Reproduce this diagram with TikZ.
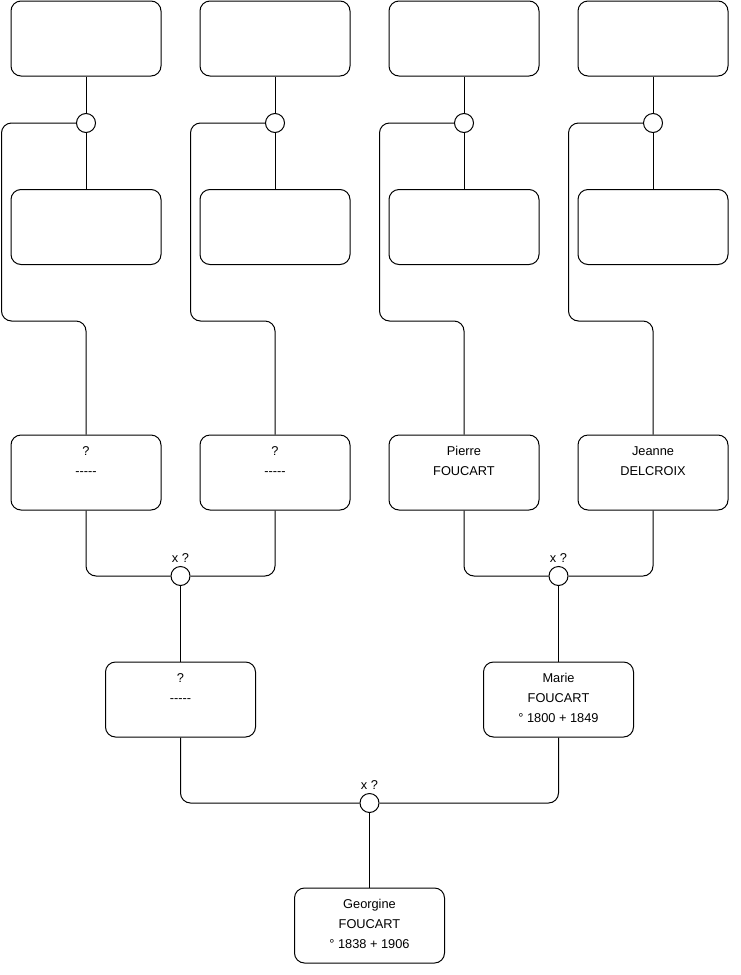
\documentclass[tikz,border=0pt]{standalone}
\usepackage{fontspec}
\setmainfont{Liberation Sans}
\usetikzlibrary{positioning, calc}

\newcommand{\card}[1]{\parbox[c][75pt][t]{150pt}{\centering\vspace*{6.5pt}\strut #1}}
\newcommand{\unknown}{-{}-{}-{}-{}-}

\begin{document}
\begin{tikzpicture}[
x=1pt, y=-1pt, line width=1pt,
    person/.style={rectangle, draw, line width=1pt, minimum width=150pt, minimum height=75pt, inner sep=0pt, rounded corners=10pt, font=\fontsize{12.8}{20}\selectfont},
    union/.style={circle, draw, fill=white, line width=1pt, minimum size=19pt, inner sep=0pt},
    every label/.style={font=\fontsize{12.8}{14}\selectfont, inner sep=3pt},
    link/.style={draw, line width=1pt, rounded corners=10pt}
]
    \useasboundingbox (0,0) rectangle (740,975);

    % Top generation
    \node[person] (a1) at (86,38.5) {\card{}};
    \node[person] (a2) at (275,38.5) {\card{}};
    \node[person] (a3) at (464,38.5) {\card{}};
    \node[person] (a4) at (653,38.5) {\card{}};

    \node[person] (b1) at (86,227) {\card{}};
    \node[person] (b2) at (275,227) {\card{}};
    \node[person] (b3) at (464,227) {\card{}};
    \node[person] (b4) at (653,227) {\card{}};

    % Grandparents
    \node[person] (pierre) at (464,472.5) {\card{Pierre\\FOUCART}};
    \node[person] (jeanne) at (653,472.5) {\card{Jeanne\\DELCROIX}};
    \node[person] (gpa) at (86,472.5) {\card{?\\\unknown}};
    \node[person] (gma) at (275,472.5) {\card{?\\\unknown}};

    % Parents
    \node[person] (father) at (180.5,699.5) {\card{?\\\unknown}};
    \node[person] (marie) at (558.5,699.5) {\card{Marie\\FOUCART\\° 1800 + 1849}};

    % Child
    \node[person] (georgine) at (369.5,925.5) {\card{Georgine\\FOUCART\\° 1838 + 1906}};

    % Unions
    \node[union] (u1) at (86,123) {};
    \node[union] (u2) at (275,123) {};
    \node[union] (u3) at (464,123) {};
    \node[union] (u4) at (653,123) {};
    \node[union, label={above:x ?}] (ugp) at (180.5,576) {};
    \node[union, label={above:x ?}] (upf) at (558.5,576) {};
    \node[union, label={above:x ?}] (uch) at (369.5,803) {};

    % Edges - top generation
    \draw[link] (a1) -- (u1) -- (b1);
    \draw[link] (a2) -- (u2) -- (b2);
    \draw[link] (a3) -- (u3) -- (b3);
    \draw[link] (a4) -- (u4) -- (b4);

    \draw[link] (u1.west) -| ++(-74.5,198) -| (gpa.north);
    \draw[link] (u2.west) -| ++(-74.5,198) -| (gma.north);
    \draw[link] (u3.west) -| ++(-74.5,198) -| (pierre.north);
    \draw[link] (u4.west) -| ++(-74.5,198) -| (jeanne.north);

    % Edges - grandparents
    \draw[link] (gpa.south) |- (ugp.west);
    \draw[link] (gma.south) |- (ugp.east);
    \draw[link] (ugp) -- (father);
    \draw[link] (pierre.south) |- (upf.west);
    \draw[link] (jeanne.south) |- (upf.east);
    \draw[link] (upf) -- (marie);

    % Edges - parents
    \draw[link] (father.south) |- (uch.west);
    \draw[link] (marie.south) |- (uch.east);
    \draw[link] (uch) -- (georgine);

\end{tikzpicture}
\end{document}
